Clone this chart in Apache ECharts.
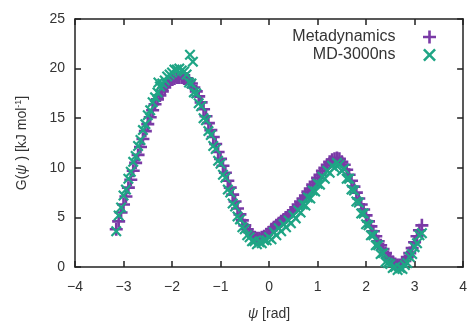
<!DOCTYPE html>
<html>
<head>
<meta charset="utf-8">
<script src="https://cdn.jsdelivr.net/npm/echarts@6/dist/echarts.min.js"></script>
<style>html,body{margin:0;padding:0;background:#fff;}#c{width:470px;height:326px;}</style>
</head>
<body>
<div id="c"></div>
<script>
// psi grid (rad)
const psi = [-3.15,-3.10,-3.05,-3.00,-2.95,-2.90,-2.85,-2.80,-2.75,-2.70,-2.65,-2.60,-2.55,-2.50,-2.45,-2.40,-2.35,-2.30,
  -2.25,-2.20,-2.15,-2.10,-2.05,-2.00,-1.95,-1.90,-1.85,-1.80,-1.75,
  -1.70,-1.65,-1.60,-1.55,-1.50,-1.45,-1.40,-1.35,-1.30,-1.25,-1.20,-1.15,-1.10,-1.05,-1.00,-0.95,-0.90,-0.85,-0.80,-0.75,-0.70,-0.65,-0.60,-0.55,-0.50,
  -0.45,-0.40,-0.35,-0.30,-0.25,-0.20,-0.15,-0.10,-0.05,0.00,
  0.05,0.10,0.15,0.20,0.25,0.30,0.35,0.40,0.45,0.50,0.55,0.60,0.65,0.70,0.75,0.80,0.85,0.90,0.95,1.00,1.05,1.10,1.15,1.20,1.25,1.30,
  1.35,1.40,1.45,
  1.50,1.55,1.60,1.65,1.70,1.75,1.80,1.85,1.90,1.95,2.00,2.05,2.10,2.15,2.20,2.25,2.30,2.35,2.40,
  2.45,2.50,2.55,2.60,2.65,2.70,2.75,2.80,2.85,2.90,2.95,3.00,3.05,3.10,3.15];
// Metadynamics G (kJ/mol)
const gMeta = [3.8,4.6,5.5,6.3,7.1,8.0,8.8,9.7,10.5,11.3,12.1,12.9,13.7,14.4,15.1,15.8,16.4,16.9,
  17.3,17.7,18.1,18.4,18.7,18.9,19.0,19.1,19.1,19.1,19.0,
  19.0,18.8,18.5,18.1,17.7,17.2,16.6,15.9,15.2,14.5,13.8,13.1,12.4,11.6,10.9,10.2,9.5,8.7,8.0,7.3,6.6,5.9,5.3,4.7,4.2,
  3.8,3.5,3.2,3.0,2.9,2.9,3.0,3.1,3.3,3.5,
  3.8,4.0,4.2,4.4,4.6,4.8,5.0,5.2,5.5,5.7,6.0,6.3,6.6,6.9,7.2,7.6,7.9,8.3,8.6,9.0,9.3,9.7,10.0,10.3,10.6,10.8,
  10.9,11.0,10.9,
  10.6,10.3,9.8,9.3,8.7,8.1,7.5,6.9,6.3,5.8,5.2,4.6,4.1,3.6,3.1,2.6,2.2,1.8,1.4,
  1.0,0.7,0.5,0.3,0.2,0.2,0.3,0.6,1.0,1.4,1.9,2.5,3.1,3.7,4.2];
// MD-3000ns G (kJ/mol)
const gMD = [3.6,5.2,6.0,7.2,7.8,8.9,9.6,10.6,11.2,12.2,12.8,13.8,14.4,15.3,15.8,16.6,17.1,17.6,
  18.2,18.5,18.8,19.2,19.4,19.6,19.9,19.9,20.0,19.8,19.7,
  19.4,18.6,18.5,17.6,17.5,16.5,16.2,15.0,14.8,13.7,13.3,12.2,11.9,10.7,10.4,9.3,9.0,7.8,7.5,6.4,6.1,5.1,4.8,4.0,3.8,
  3.2,3.0,2.6,2.6,2.3,2.5,2.4,2.7,2.7,3.0,
  2.8,3.5,3.2,3.9,3.6,4.3,4.0,4.7,4.4,5.2,4.9,5.7,5.5,6.3,6.2,7.0,6.9,7.7,7.6,8.4,8.3,9.1,8.9,9.7,9.5,10.2,
  10.0,10.5,10.3,
  9.7,9.9,8.9,8.9,7.8,7.7,6.6,6.5,5.4,5.4,4.3,4.2,3.2,3.2,2.2,2.2,1.3,1.4,0.5,
  0.4,0.3,-0.1,0.0,-0.3,-0.1,-0.2,0.2,0.4,1.0,1.3,2.0,2.4,3.2,3.4];
// a few scattered MD points above the first barrier
const psiMDExtra = [-1.63,-1.57,-2.28];
const gMDExtra = [21.4,20.7,18.6];

const xTicks = {min:-4, max:4, interval:1};
const yTicks = {min:0, max:25, interval:5};

const FONT = 'Liberation Sans, Arial, Helvetica, sans-serif';
const TXT = '#333';
const PLUS = 'path://M4,0H6V4H10V6H6V10H4V6H0V4H4Z';
const CROSS = 'path://M0,1.4L1.4,0L5,3.6L8.6,0L10,1.4L6.4,5L10,8.6L8.6,10L5,6.4L1.4,10L0,8.6L3.6,5Z';

const metaData = psi.map((x, i) => [x, gMeta[i]]);
const mdData = psi.map((x, i) => [x, gMD[i]]).concat(psiMDExtra.map((x, i) => [x, gMDExtra[i]]));

const minus = v => String(v).replace('-', '\u2212');
const frameLine = {show:true, lineStyle:{color:'#222', width:1.5}};
const tickIn = {show:true, inside:true, length:6, lineStyle:{color:'#222', width:1.5}};

const chart = echarts.init(document.getElementById('c'), null, {renderer:'canvas'});
chart.setOption({
  animation:false,
  backgroundColor:'#fff',
  grid:{left:75, right:4, top:19, bottom:56, containLabel:false},
  legend:{
    orient:'vertical', align:'right', right:29, top:24,
    itemWidth:58, itemHeight:13, itemGap:2,
    textStyle:{fontFamily:FONT, fontSize:16, color:TXT, lineHeight:16},
    data:[{name:'Metadynamics', icon:PLUS}, {name:'MD-3000ns', icon:CROSS}]
  },
  xAxis:[{
    type:'value', min:xTicks.min, max:xTicks.max, interval:xTicks.interval,
    axisLine:Object.assign({onZero:false}, frameLine), axisTick:tickIn, splitLine:{show:false},
    axisLabel:{fontFamily:FONT, fontSize:14, color:TXT, margin:13, formatter:minus},
    name:'{i|ψ} [rad]', nameLocation:'middle', nameGap:40,
    nameTextStyle:{fontFamily:FONT, fontSize:14, color:TXT, rich:{i:{fontStyle:'italic', fontFamily:FONT, fontSize:14, color:TXT}}}
  },{
    type:'value', position:'top', min:xTicks.min, max:xTicks.max, interval:xTicks.interval,
    axisLine:Object.assign({onZero:false}, frameLine), axisTick:tickIn, axisLabel:{show:false}, splitLine:{show:false}
  }],
  yAxis:[{
    type:'value', min:yTicks.min, max:yTicks.max, interval:yTicks.interval,
    axisLine:Object.assign({onZero:false}, frameLine), axisTick:tickIn, splitLine:{show:false},
    axisLabel:{fontFamily:FONT, fontSize:14, color:TXT, margin:10},
    name:'G({i|ψ} ) [kJ mol{sup|-1}]', nameLocation:'middle', nameRotate:90, nameGap:45,
    nameTextStyle:{fontFamily:FONT, fontSize:14, color:TXT,
      rich:{i:{fontStyle:'italic', fontFamily:FONT, fontSize:14, color:TXT},
            sup:{fontFamily:FONT, fontSize:9, color:TXT, padding:[0,0,7,0]}}}
  },{
    type:'value', position:'right', min:yTicks.min, max:yTicks.max, interval:yTicks.interval,
    axisLine:Object.assign({onZero:false}, frameLine), axisTick:tickIn, axisLabel:{show:false}, splitLine:{show:false}
  }],
  series:[{
    name:'Metadynamics', type:'scatter', clip:false, symbol:PLUS, symbolSize:13,
    itemStyle:{color:'#7a3aa6', opacity:1}, data:metaData
  },{
    name:'MD-3000ns', type:'scatter', clip:false, symbol:CROSS, symbolSize:11,
    itemStyle:{color:'#1fa585', opacity:1}, data:mdData
  }]
});
</script>
</body>
</html>
